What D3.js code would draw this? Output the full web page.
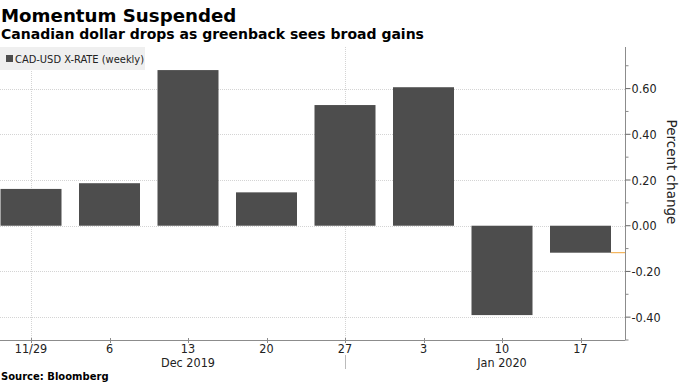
<!DOCTYPE html>
<html><head><meta charset="utf-8">
<script src="https://cdn.jsdelivr.net/npm/d3@7"></script>
<style>
body{margin:0;background:#fff;}
svg{display:block;}
</style></head>
<body>
<svg id="c" width="680" height="383"></svg>
<script>
const weeks = ["2019-11-29","2019-12-06","2019-12-13","2019-12-20","2019-12-27","2020-01-03","2020-01-10","2020-01-17"];
const weekLabels = ["11/29","6","13","20","27","3","10","17"];
const values = [0.161, 0.186, 0.681, 0.146, 0.528, 0.606, -0.391, -0.118];
const yMajorTicks = [-0.4, -0.2, 0, 0.2, 0.4, 0.6];
const yMinorTicks = [-0.5, -0.3, -0.1, 0.1, 0.3, 0.5, 0.7];
const monthLabels = [{date:"2019-12-13", text:"Dec 2019"}, {date:"2020-01-10", text:"Jan 2020"}];
const gridDates = ["2019-11-29","2019-12-27"];
const monthSep = "2019-12-27";

const parse = d3.utcParse("%Y-%m-%d");
const svg = d3.select("#c");
const font = "'DejaVu Sans', Verdana, sans-serif";
const cfont = "'DejaVu Sans Condensed', 'DejaVu Sans', sans-serif";

const plotL = 0, plotR = 625, plotT = 47, plotB = 340;
const x = d3.scaleUtc().domain([parse(weeks[0]), parse(weeks[7])]).range([31, 580.5]);
const y = d3.scaleLinear().domain([-0.5, 0.782]).range([plotB, plotT]);
const barW = 61;

// titles
svg.append("text").attr("x",1).attr("y",22).attr("font-family",font).attr("font-weight","bold")
  .attr("font-size",18.2).attr("fill","#000").text("Momentum Suspended");
svg.append("text").attr("x",1).attr("y",39).attr("font-family",font).attr("font-weight","bold")
  .attr("font-size",14).attr("fill","#000").text("Canadian dollar drops as greenback sees broad gains");

// gridlines
const g = svg.append("g");
g.selectAll("line.hg").data(yMajorTicks).join("line")
  .attr("x1",plotL).attr("x2",plotR).attr("y1",d=>Math.round(y(d))+0.5).attr("y2",d=>Math.round(y(d))+0.5)
  .attr("stroke","#d4d4d4").attr("stroke-dasharray","1,1");
g.selectAll("line.vg").data(gridDates).join("line")
  .attr("x1",d=>Math.round(x(parse(d)))+0.5).attr("x2",d=>Math.round(x(parse(d)))+0.5)
  .attr("y1",plotT).attr("y2",plotB)
  .attr("stroke","#d4d4d4").attr("stroke-dasharray","1,1");

// legend
svg.append("rect").attr("x",0).attr("y",47).attr("width",145).attr("height",23).attr("fill","#efefef");
svg.append("rect").attr("x",6).attr("y",55).attr("width",7).attr("height",7).attr("fill","#4d4d4d");
svg.append("text").attr("x",15).attr("y",63).attr("font-family",cfont).attr("font-size",11)
  .attr("fill","#222").text("CAD-USD X-RATE (weekly)");

// bars
svg.append("g").selectAll("rect").data(values).join("rect")
  .attr("x",(d,i)=>x(parse(weeks[i]))-barW/2)
  .attr("width",barW)
  .attr("y",d=>y(Math.max(0,d)))
  .attr("height",d=>Math.abs(y(d)-y(0)))
  .attr("fill","#4d4d4d");

// last value marker
const last = values[values.length-1];
svg.append("line").attr("x1",x(parse(weeks[7]))+barW/2).attr("x2",plotR)
  .attr("y1",y(last)).attr("y2",y(last)).attr("stroke","#f2a53a").attr("stroke-width",1);

// y axis
const ya = svg.append("g").attr("transform",`translate(${plotR+0.5},0)`);
ya.append("line").attr("x1",0).attr("x2",0).attr("y1",plotT).attr("y2",plotB).attr("stroke","#8c8c8c");
ya.selectAll("line.mj").data(yMajorTicks).join("line").attr("x1",0).attr("x2",5)
  .attr("y1",d=>y(d)).attr("y2",d=>y(d)).attr("stroke","#666");
ya.selectAll("line.mn").data(yMinorTicks).join("line").attr("x1",0).attr("x2",3)
  .attr("y1",d=>y(d)).attr("y2",d=>y(d)).attr("stroke","#888");
ya.selectAll("text").data(yMajorTicks).join("text")
  .attr("x",6).attr("y",d=>y(d)+4.5).attr("font-family",cfont).attr("font-size",12.5).attr("fill","#222")
  .text(d=>d3.format(".2f")(d).replace("−","-"));
svg.append("text").attr("transform","translate(667,172) rotate(90)").attr("text-anchor","middle")
  .attr("font-family",font).attr("font-size",13.5).attr("fill","#222").text("Percent change");

// x axis
svg.append("line").attr("x1",plotL).attr("x2",plotR+0.5).attr("y1",plotB+0.5).attr("y2",plotB+0.5).attr("stroke","#8c8c8c");
const xa = svg.append("g");
xa.selectAll("line").data(weeks).join("line")
  .attr("x1",d=>Math.round(x(parse(d)))+0.5).attr("x2",d=>Math.round(x(parse(d)))+0.5)
  .attr("y1",plotB-2).attr("y2",plotB+3).attr("stroke","#8c8c8c");
xa.selectAll("text").data(weeks).join("text")
  .attr("x",d=>x(parse(d))).attr("y",353).attr("text-anchor","middle")
  .attr("font-family",cfont).attr("font-size",12.5).attr("fill","#222")
  .text((d,i)=>weekLabels[i]);
xa.selectAll("text.m").data(monthLabels).join("text").attr("class","m")
  .attr("x",d=>x(parse(d.date))).attr("y",367).attr("text-anchor","middle")
  .attr("font-family",cfont).attr("font-size",12.5).attr("fill","#222").text(d=>d.text);
svg.append("line").attr("x1",Math.round(x(parse(monthSep)))+0.5).attr("x2",Math.round(x(parse(monthSep)))+0.5)
  .attr("y1",355).attr("y2",369).attr("stroke","#bbb");

// source
svg.append("text").attr("x",1).attr("y",380).attr("font-family",font).attr("font-weight","bold")
  .attr("font-size",10).attr("fill","#000").text("Source: Bloomberg");
</script>
</body></html>
